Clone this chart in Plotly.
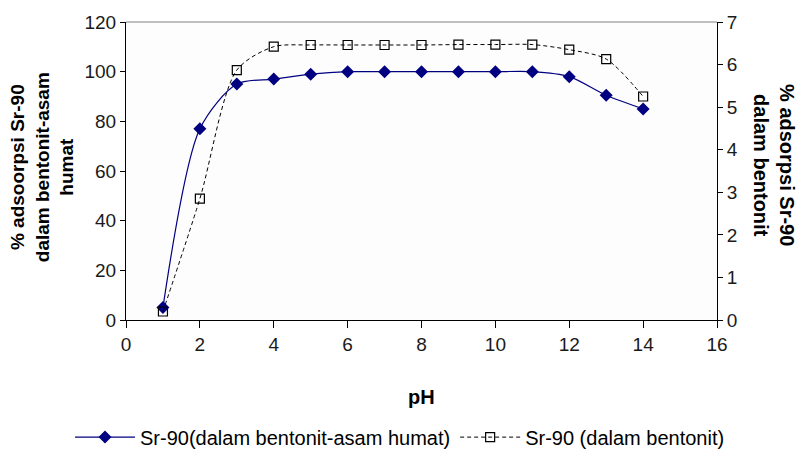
import plotly.graph_objects as go

# pH values and Sr-90 adsorption for the two sorbents
ph = [1, 2, 3, 4, 5, 6, 7, 8, 9, 10, 11, 12, 13, 14]
humat = [5, 77, 95, 97, 99, 100, 100, 100, 100, 100, 100, 98, 90.5, 85]
bentonit = [0.2, 2.85, 5.87, 6.42, 6.46, 6.46, 6.46, 6.46, 6.47, 6.47, 6.47, 6.35, 6.13, 5.25]

name_humat = "Sr-90(dalam bentonit-asam humat)"
name_bentonit = "Sr-90 (dalam bentonit)"

FONT = "Liberation Sans, Arial, sans-serif"
TICK_COLOR = "#1a1a1a"

fig = go.Figure()

fig.add_trace(go.Scatter(
    x=ph, y=humat, name=name_humat, mode="lines+markers",
    line=dict(color="#000080", width=1.2, shape="spline", smoothing=0.8),
    marker=dict(symbol="diamond", size=10, color="#000080"),
    yaxis="y",
))

fig.add_trace(go.Scatter(
    x=ph, y=bentonit, name=name_bentonit, mode="lines+markers",
    line=dict(color="#000000", width=1, dash="4px,3px", shape="spline", smoothing=0.8),
    marker=dict(symbol="square-open", size=9, color="#000000",
                line=dict(color="#000000", width=1.2)),
    yaxis="y2",
))

fig.update_layout(
    width=798, height=451,
    margin=dict(l=126, r=81, t=22, b=131, autoexpand=False),
    paper_bgcolor="white",
    plot_bgcolor="#fdfdfd",
    font=dict(family=FONT, size=19, color=TICK_COLOR),
    showlegend=True,
    legend=dict(
        orientation="h", x=(70 - 126) / 591, xanchor="left",
        y=-0.393, yanchor="middle",
        font=dict(family=FONT, size=20, color="#000000"),
        bgcolor="rgba(0,0,0,0)", itemwidth=60, tracegroupgap=0,
    ),
    xaxis=dict(
        range=[0, 16], dtick=2, tick0=0, showgrid=False, zeroline=False,
        showline=True, linecolor="#000000", linewidth=1,
        ticks="outside", ticklen=7, tickcolor="#000000",
        tickfont=dict(family=FONT, size=19, color=TICK_COLOR),
    ),
    yaxis=dict(
        range=[0, 120], dtick=20, tick0=0, showgrid=False, zeroline=False,
        showline=True, linecolor="#000000", linewidth=1,
        ticks="outside", ticklen=5, tickcolor="#000000",
        tickfont=dict(family=FONT, size=19, color=TICK_COLOR),
    ),
    yaxis2=dict(
        range=[0, 7], dtick=1, tick0=0, overlaying="y", side="right",
        showgrid=False, zeroline=False,
        showline=True, linecolor="#000000", linewidth=1,
        ticks="outside", ticklen=5, tickcolor="#000000",
        tickfont=dict(family=FONT, size=19, color=TICK_COLOR),
    ),
)

# grey frame line along the top of the plot area
fig.add_shape(type="line", xref="paper", yref="paper", x0=0, x1=1, y0=1, y1=1,
              line=dict(color="#808080", width=1))

# axis titles
fig.add_annotation(
    text="% adsoorpsi Sr-90<br>dalam bentonit-asam<br>humat",
    xref="paper", yref="paper", x=-0.142, y=0.513,
    xanchor="center", yanchor="middle", textangle=-90, showarrow=False,
    font=dict(family=FONT, size=19, color="#000000", weight="bold"),
)
fig.add_annotation(
    text="% adsorpsi Sr-90<br>dalam bentonit",
    xref="paper", yref="paper", x=(774 - 126) / 591, y=0.52,
    xanchor="center", yanchor="middle", textangle=90, showarrow=False,
    font=dict(family=FONT, size=20, color="#000000", weight="bold"),
)
fig.add_annotation(
    text="pH", xref="paper", yref="paper", x=0.5, y=-0.258,
    xanchor="center", yanchor="middle", showarrow=False,
    font=dict(family=FONT, size=20, color="#000000", weight="bold"),
)

fig.write_html("out.html")
